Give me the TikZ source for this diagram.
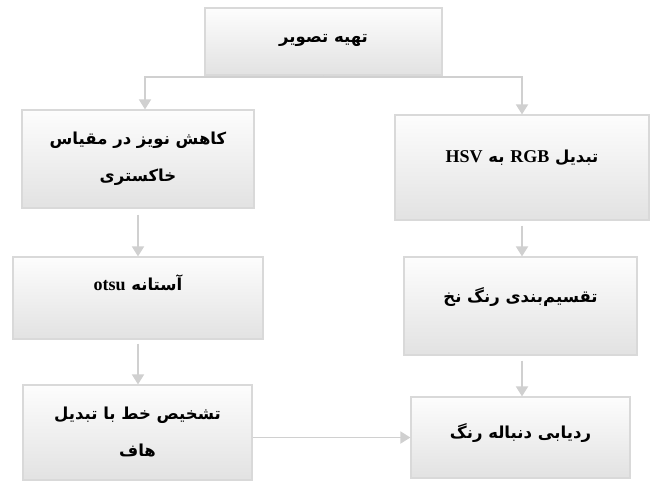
\documentclass[tikz,border=0pt]{standalone}
\usepackage{fontspec}
\usepackage{tikz}
\usetikzlibrary{arrows.meta,positioning}
\TeXXeTstate=1
\newfontfamily\farsi[Script=Arabic]{DejaVu Sans}
\newfontfamily\latinfont{Liberation Serif}
\definecolor{edgegray}{HTML}{D9D9D9}
\definecolor{linegray}{HTML}{D0D0D0}
\definecolor{topfill}{HTML}{FDFDFD}
\definecolor{botfill}{HTML}{E2E2E2}
\newcommand{\fa}[1]{\beginR #1\endR}
\newcommand{\en}[1]{\beginL{\fontsize{18}{37}\latinfont\bfseries #1}\endL}
\tikzset{
  box/.style={draw=edgegray,line width=1.2pt,top color=topfill,bottom color=botfill,inner sep=0pt},
  lbl/.style={font=\fontsize{16.5}{37}\farsi\bfseries,align=center,inner sep=0pt},
  ar/.style={-{Triangle[length=10pt,width=12pt]},line width=1.8pt,linegray}
}
\begin{document}
\begin{tikzpicture}[x=1pt,y=1pt]
\useasboundingbox (0,0) rectangle (650,-483);
% boxes
\node[box,minimum width=237pt,minimum height=67pt] (b1) at (323.5,-41.5) {};
\node[box,minimum width=232pt,minimum height=98pt] (b2) at (138,-159) {};
\node[box,minimum width=254pt,minimum height=105pt] (b3) at (522,-167.5) {};
\node[box,minimum width=250pt,minimum height=82pt] (b4) at (138,-298) {};
\node[box,minimum width=233pt,minimum height=98pt] (b5) at (520.5,-306) {};
\node[box,minimum width=229pt,minimum height=95pt] (b6) at (137.5,-432.5) {};
\node[box,minimum width=219pt,minimum height=81pt] (b7) at (520.5,-437.5) {};
% labels
\node[lbl,yshift=1.5pt] (t1) at (b1) {\fa{تهیه تصویر}};
\node[lbl,yshift=0pt] (t2) at (b2) {\fa{کاهش نویز در مقیاس}\\\fa{خاکستری}};
\node[lbl,yshift=9.5pt] (t3) at (b3) {\fa{تبدیل \en{RGB} به \en{HSV}}};
\node[lbl,yshift=15pt] (t4) at (b4) {\fa{آستانه \en{otsu}}};
\node[lbl,yshift=8.5pt] (t5) at (b5) {\fa{تقسیم‌بندی رنگ نخ}};
\node[lbl,yshift=0.5pt] (t6) at (b6) {\fa{تشخیص خط با تبدیل}\\\fa{هاف}};
\node[lbl,yshift=5pt] (t7) at (b7) {\fa{ردیابی دنباله رنگ}};
% connectors
\coordinate (sl) at (145,-77);
\coordinate (sr) at (522,-77);
\draw[ar] (b1.south) |- (sl) -- (sl |- b2.north);
\draw[ar] (b1.south) |- (sr) -- (sr |- b3.north);
\draw[ar,shorten <=6pt] (b2) -- (b4);
\draw[ar,shorten <=4pt] (b4) -- (b4 |- b6.north);
\draw[ar,shorten <=5pt] (sr |- b3.south) -- (sr |- b5.north);
\draw[ar,shorten <=5pt] (sr |- b5.south) -- (sr |- b7.north);
\draw[ar] (b6.east |- b7) -- (b7.west);
\end{tikzpicture}
\end{document}
